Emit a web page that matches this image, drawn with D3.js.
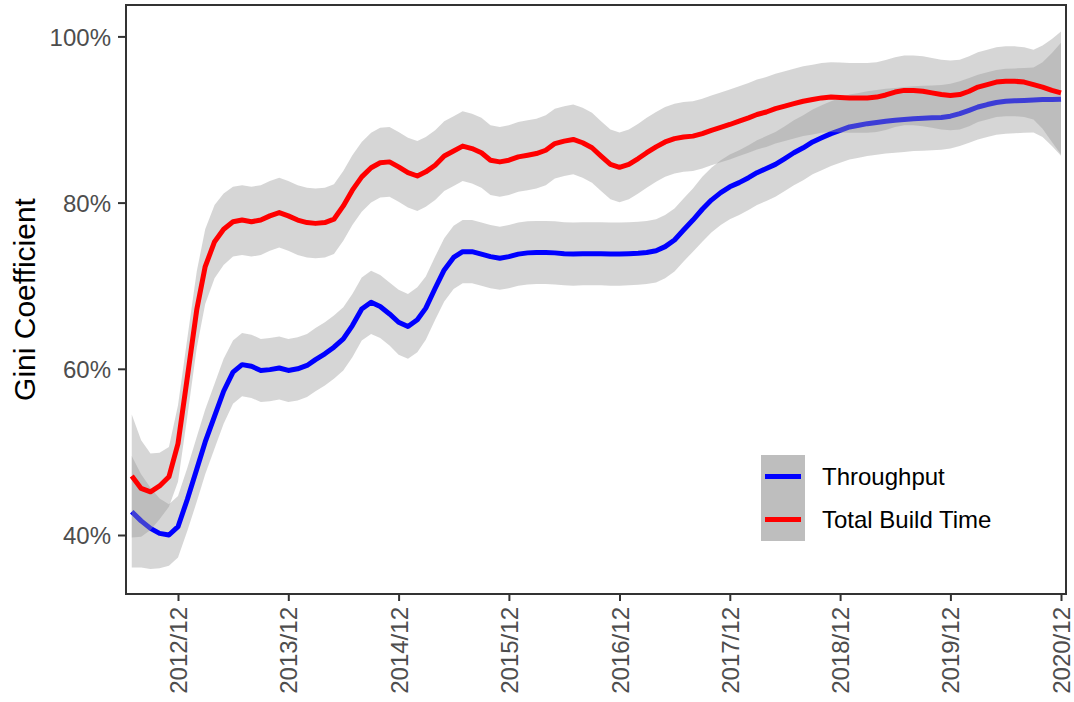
<!DOCTYPE html>
<html>
<head>
<meta charset="utf-8">
<script src="https://cdn.jsdelivr.net/npm/d3@7"></script>
<style>
  body { margin: 0; background: #fff; }
  svg { display: block; }
  text { font-family: "Liberation Sans", Arial, Helvetica, sans-serif; }
</style>
</head>
<body>
<svg id="chart" width="1074" height="702"></svg>
<script>
// Monthly Gini coefficients (%) with smoothing confidence half-widths
const firstMonth = "2012-07";
const lastMonth = "2020-12";
const xTickLabels = ["2012/12", "2013/12", "2014/12", "2015/12", "2016/12", "2017/12", "2018/12", "2019/12", "2020/12"];
const yTickValues = [40, 60, 80, 100];
const seriesNames = ["Throughput", "Total Build Time"];
const seriesColors = ["#0000ff", "#ff0000"];

const throughput = [
  42.8, 41.7, 40.8, 40.2, 40.0, 41.0,
  44.3, 47.9, 51.2, 54.3, 57.3, 59.6, 60.5, 60.3, 59.8, 59.9, 60.1, 59.8,
  60.0, 60.4, 61.1, 61.8, 62.6, 63.6, 65.2, 67.2, 68.0, 67.5, 66.6, 65.6,
  65.1, 65.9, 67.3, 69.7, 71.9, 73.4, 74.1, 74.1, 73.8, 73.5, 73.3, 73.5,
  73.8, 73.95, 74.0, 74.0, 73.95, 73.85, 73.8, 73.85, 73.85, 73.85, 73.8, 73.8,
  73.85, 73.9, 74.0, 74.2, 74.7, 75.5, 76.7, 77.9, 79.2, 80.3, 81.2, 81.9,
  82.4, 83.0, 83.6, 84.1, 84.6, 85.3, 86.0, 86.6, 87.3, 87.8, 88.3, 88.7,
  89.1, 89.3, 89.5, 89.65, 89.8, 89.9, 90.0, 90.1, 90.15, 90.2, 90.25, 90.4,
  90.7, 91.1, 91.5, 91.8, 92.05, 92.2, 92.25, 92.3, 92.35, 92.4, 92.4, 92.45
];
const throughputSE = [
  6.7, 5.6, 4.9, 4.2, 3.7, 3.7,
  3.8, 3.9, 3.9, 3.9, 3.9, 3.8, 3.8, 3.8, 3.8, 3.8, 3.8, 3.8,
  3.8, 3.8, 3.8, 3.8, 3.8, 3.8, 3.8, 3.8, 3.8, 3.8, 3.8, 3.9,
  3.9, 3.9, 3.8, 3.8, 3.8, 3.8, 3.8, 3.8, 3.8, 3.8, 3.8, 3.8,
  3.8, 3.8, 3.8, 3.8, 3.8, 3.8, 3.8, 3.8, 3.8, 3.8, 3.8, 3.8,
  3.8, 3.8, 3.8, 3.8, 3.8, 3.8, 3.8, 3.8, 3.9, 3.9, 3.9, 3.9,
  3.9, 3.9, 3.9, 3.9, 3.9, 3.9, 3.9, 3.9, 3.9, 3.9, 3.9, 3.9,
  3.9, 3.9, 3.9, 3.9, 3.9, 3.9, 3.9, 3.9, 3.9, 3.9, 3.9, 3.9,
  3.9, 3.9, 3.9, 3.9, 3.9, 3.9, 3.9, 3.9, 3.9, 4.5, 5.6, 6.8
];
const buildTime = [
  47.1, 45.6, 45.2, 45.9, 47.0, 51.0,
  59.0, 67.1, 72.3, 75.3, 76.8, 77.7, 77.9, 77.7, 77.9, 78.4, 78.8, 78.4,
  77.9, 77.6, 77.5, 77.6, 78.0, 79.6, 81.5, 83.1, 84.2, 84.8, 84.9, 84.3,
  83.6, 83.2, 83.7, 84.5, 85.6, 86.2, 86.8, 86.5, 86.0, 85.1, 84.9, 85.1,
  85.5, 85.7, 85.9, 86.3, 87.1, 87.4, 87.6, 87.2, 86.6, 85.6, 84.6, 84.25,
  84.6, 85.3, 86.0, 86.7, 87.3, 87.7, 87.9, 88.0, 88.3, 88.7, 89.05, 89.4,
  89.8, 90.2, 90.6, 90.9, 91.3, 91.6, 91.9, 92.2, 92.4, 92.6, 92.7, 92.65,
  92.6, 92.6, 92.6, 92.7, 92.95, 93.3, 93.5, 93.5, 93.4, 93.2, 93.0, 92.9,
  93.0, 93.4, 93.9, 94.2, 94.5, 94.6, 94.6, 94.5, 94.2, 93.9, 93.5, 93.2
];
const buildTimeSE = [
  7.4, 5.8, 4.6, 4.0, 3.6, 4.6,
  4.7, 4.6, 4.5, 4.4, 4.3, 4.2, 4.2, 4.2, 4.2, 4.2, 4.2, 4.2,
  4.2, 4.2, 4.2, 4.2, 4.2, 4.2, 4.2, 4.2, 4.2, 4.2, 4.2, 4.2,
  4.2, 4.2, 4.2, 4.2, 4.2, 4.2, 4.2, 4.2, 4.2, 4.2, 4.2, 4.2,
  4.2, 4.2, 4.2, 4.2, 4.2, 4.2, 4.2, 4.2, 4.2, 4.2, 4.2, 4.2,
  4.2, 4.2, 4.2, 4.2, 4.2, 4.2, 4.2, 4.2, 4.2, 4.2, 4.2, 4.2,
  4.2, 4.2, 4.2, 4.2, 4.2, 4.2, 4.2, 4.2, 4.2, 4.2, 4.2, 4.2,
  4.2, 4.2, 4.2, 4.2, 4.2, 4.2, 4.2, 4.2, 4.2, 4.2, 4.2, 4.2,
  4.2, 4.2, 4.2, 4.2, 4.2, 4.2, 4.2, 4.2, 4.2, 5.0, 6.2, 7.4
];

const svg = d3.select("#chart");
const W = 1074, H = 702;
const panel = { left: 126, top: 5, right: 1066, bottom: 594 };
const axisColor = "#333333";
const tickTextColor = "#4d4d4d";

svg.append("rect").attr("width", W).attr("height", H).attr("fill", "#fff");

const parseMonth = d3.timeParse("%Y-%m");
const parseTick = d3.timeParse("%Y/%m");
const months = d3.timeMonth.range(parseMonth(firstMonth), d3.timeMonth.offset(parseMonth(lastMonth), 1));
const tickDates = xTickLabels.map(parseTick);

const x = d3.scaleTime()
  .domain([tickDates[0], tickDates[tickDates.length - 1]])
  .range([178, 1061]);
const y = d3.scaleLinear().domain([40, 100]).range([535, 36.4]);

const series = [
  { name: seriesNames[0], color: seriesColors[0], values: throughput, se: throughputSE },
  { name: seriesNames[1], color: seriesColors[1], values: buildTime, se: buildTimeSE }
].map(s => ({
  ...s,
  points: months.map((d, i) => ({ date: d, v: s.values[i], se: s.se[i] }))
}));

svg.append("clipPath").attr("id", "panel-clip")
  .append("rect")
  .attr("x", panel.left).attr("y", panel.top)
  .attr("width", panel.right - panel.left).attr("height", panel.bottom - panel.top);

const plot = svg.append("g").attr("clip-path", "url(#panel-clip)");

const band = d3.area()
  .x(d => x(d.date))
  .y0(d => y(d.v - d.se))
  .y1(d => y(d.v + d.se));
const line = d3.line()
  .x(d => x(d.date))
  .y(d => y(d.v));

// each group draws its confidence band, then its line
series.forEach(s => {
  plot.append("path")
    .datum(s.points)
    .attr("d", band)
    .attr("fill", "#999999")
    .attr("fill-opacity", 0.4);
  plot.append("path")
    .datum(s.points)
    .attr("d", line)
    .attr("fill", "none")
    .attr("stroke", s.color)
    .attr("stroke-width", 5)
    .attr("stroke-linejoin", "round");
});

// panel border
svg.append("rect")
  .attr("x", panel.left).attr("y", panel.top)
  .attr("width", panel.right - panel.left).attr("height", panel.bottom - panel.top)
  .attr("fill", "none")
  .attr("stroke", axisColor)
  .attr("stroke-width", 2);

// y axis
const yAxis = svg.append("g")
  .attr("transform", `translate(${panel.left},0)`)
  .call(d3.axisLeft(y).tickValues(yTickValues).tickFormat(d => d + "%").tickSize(8).tickPadding(7));
yAxis.select(".domain").remove();
yAxis.selectAll(".tick line").attr("stroke", axisColor).attr("stroke-width", 2);
yAxis.selectAll(".tick text")
  .attr("fill", tickTextColor)
  .style("font-size", "24px")
  .attr("dy", "0.36em");

// x axis
const xAxis = svg.append("g")
  .attr("transform", `translate(0,${panel.bottom})`)
  .call(d3.axisBottom(x).tickValues(tickDates).tickFormat(d3.timeFormat("%Y/%m")).tickSize(7));
xAxis.select(".domain").remove();
xAxis.selectAll(".tick line").attr("stroke", axisColor).attr("stroke-width", 2);
xAxis.selectAll(".tick text")
  .attr("fill", tickTextColor)
  .style("font-size", "24px")
  .attr("text-anchor", "end")
  .attr("x", 0).attr("y", 0).attr("dy", null)
  .attr("transform", "translate(8.6,13) rotate(-90)");

// y axis title
svg.append("text")
  .attr("transform", `translate(35,${(panel.top + panel.bottom) / 2}) rotate(-90)`)
  .attr("text-anchor", "middle")
  .attr("fill", "#000")
  .style("font-size", "30px")
  .text("Gini Coefficient");

// legend
const legend = svg.append("g").attr("transform", "translate(761,455)");
const keyH = 43;
legend.append("rect")
  .attr("width", 44).attr("height", keyH * seriesNames.length)
  .attr("fill", "#bebebe");
const items = legend.selectAll(".item")
  .data(series)
  .join("g")
  .attr("class", "item")
  .attr("transform", (d, i) => `translate(0,${i * keyH + keyH / 2})`);
items.append("line")
  .attr("x1", 4).attr("x2", 40)
  .attr("stroke", d => d.color)
  .attr("stroke-width", 5);
items.append("text")
  .attr("x", 61)
  .attr("dy", "0.36em")
  .attr("fill", "#000")
  .style("font-size", "24px")
  .text(d => d.name);
</script>
</body>
</html>
